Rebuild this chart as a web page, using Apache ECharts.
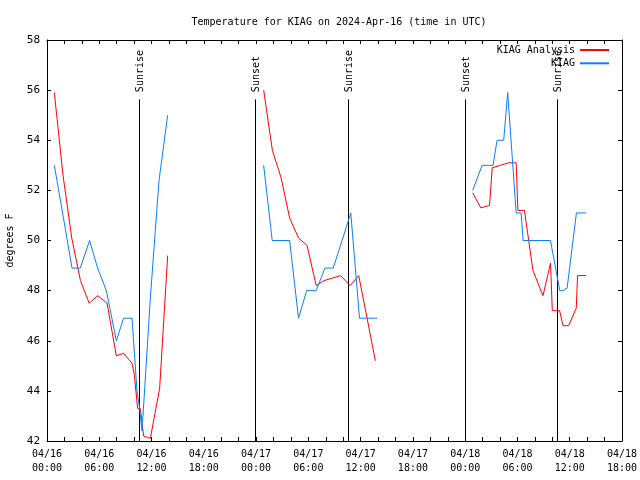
<!DOCTYPE html>
<html>
<head>
<meta charset="utf-8">
<script src="https://cdn.jsdelivr.net/npm/echarts@6/dist/echarts.min.js"></script>
<style>html,body{margin:0;padding:0;background:#fff}#c{width:640px;height:480px}</style>
</head>
<body>
<div id="c"></div>
<script>
// Hours since 04/16 00:00 UTC
var analysisT = [0.84,1.84,2.84,3.84,4.84,5.81,6.89,7.96,8.79,9.76,10.02,10.4,10.71,11.09,11.86,12.93,13.85,
  null,
  24.87,25.87,26.87,27.85,28.87,29.85,30.9,31.8,32.75,33.7,34.8,35.78,36.74,37.69,
  null,
  48.86,49.8,50.8,51.1,52.04,52.99,53.85,54.05,54.8,55.78,56.93,57.8,58.0,58.84,59.23,59.87,60.75,60.9,61.88];
var analysisV = [55.9,52.6,50.1,48.4,47.5,47.8,47.5,45.4,45.5,45.1,44.65,43.3,43.3,42.2,42.1,44.1,49.4,
  null,
  56.0,53.6,52.5,50.9,50.1,49.8,48.2,48.4,48.5,48.6,48.2,48.6,46.9,45.2,
  null,
  51.9,51.3,51.4,52.9,53.0,53.1,53.1,51.2,51.2,48.8,47.8,49.1,47.2,47.2,46.6,46.6,47.3,48.6,48.6];
var obsT = [0.84,1.84,2.87,3.82,4.89,5.81,6.81,7.96,8.79,9.76,10.33,10.63,10.91,11.86,12.86,13.85,
  null,
  24.87,25.85,27.85,28.87,29.8,30.9,31.9,32.85,33.87,34.87,35.87,37.89,
  null,
  48.86,49.94,51.2,51.66,52.42,52.88,53.85,54.42,54.65,57.79,58.86,59.24,59.7,60.77,61.88];
var obsV = [53.0,51.0,48.9,48.9,50.0,48.9,48.0,46.0,46.9,46.9,44.0,43.3,42.4,47.7,52.4,55.0,
  null,
  53.0,50.0,50.0,46.9,48.0,48.0,48.9,48.9,50.0,51.1,46.9,46.9,
  null,
  52.0,53.0,53.0,54.0,54.0,55.9,51.1,51.1,50.0,50.0,48.0,48.0,48.1,51.1,51.1];
var sunTimes = [10.52, 23.84, 34.51, 47.94, 58.5];
var sunNames = ['Sunrise', 'Sunset', 'Sunrise', 'Sunset', 'Sunrise'];
var xTickLabels = ['04/16\n00:00','04/16\n06:00','04/16\n12:00','04/16\n18:00',
  '04/17\n00:00','04/17\n06:00','04/17\n12:00','04/17\n18:00',
  '04/18\n00:00','04/18\n06:00','04/18\n12:00','04/18\n18:00'];
var seriesNames = ['KIAG Analysis', 'KIAG'];
var titleText = 'Temperature for KIAG on 2024-Apr-16 (time in UTC)';
var yName = 'degrees F';

function pairs(ts, vs) {
  var out = [];
  for (var i = 0; i < ts.length; i++) {
    out.push(ts[i] === null ? [NaN, NaN] : [ts[i], vs[i]]);
  }
  return out;
}

var FONT = 'DejaVu Sans Mono';
var chart = echarts.init(document.getElementById('c'), null, {renderer: 'canvas'});
var tickStyle = {show: true, inside: true, length: 4, lineStyle: {color: '#000', width: 1}};
var minorStyle = {show: true, splitNumber: 3, length: 4, lineStyle: {color: '#000', width: 1}};
var lineTop = 55.63, labelBottom = 55.92;

chart.setOption({
  animation: false,
  backgroundColor: '#fff',
  title: {
    text: titleText, left: 334, top: 12, textAlign: 'center',
    textStyle: {fontFamily: FONT, fontSize: 10, fontWeight: 'normal', color: '#000'}
  },
  legend: {
    orient: 'vertical', right: 30, top: 45, align: 'right', padding: 0,
    itemWidth: 29, itemHeight: 10, itemGap: 3.3,
    itemStyle: {opacity: 0},
    textStyle: {fontFamily: FONT, fontSize: 10, color: '#000'},
    data: seriesNames
  },
  grid: {left: 47, right: 18, top: 40, bottom: 39, containLabel: false, outerBoundsMode: 'none'},
  xAxis: [{
    type: 'value', min: 0, max: 66, interval: 6, position: 'bottom',
    axisLine: {show: true, onZero: false, lineStyle: {color: '#000', width: 1}},
    axisTick: tickStyle, minorTick: minorStyle, splitLine: {show: false},
    axisLabel: {
      margin: 6, lineHeight: 14.5, fontFamily: FONT, fontSize: 10, color: '#000',
      formatter: function (v) { return xTickLabels[Math.round(v / 6)]; }
    }
  }, {
    type: 'value', min: 0, max: 66, interval: 6, position: 'top',
    axisLine: {show: true, onZero: false, lineStyle: {color: '#000', width: 1}},
    axisTick: tickStyle, minorTick: minorStyle, splitLine: {show: false},
    axisLabel: {show: false}
  }],
  yAxis: [{
    type: 'value', min: 42, max: 58, interval: 2, position: 'left',
    name: yName, nameLocation: 'middle', nameGap: 30, nameRotate: 90,
    nameTextStyle: {fontFamily: FONT, fontSize: 10, color: '#000'},
    axisLine: {show: true, onZero: false, lineStyle: {color: '#000', width: 1}},
    axisTick: tickStyle, splitLine: {show: false},
    axisLabel: {margin: 7, fontFamily: FONT, fontSize: 11, color: '#000'}
  }, {
    type: 'value', min: 42, max: 58, interval: 2, position: 'right',
    axisLine: {show: true, onZero: false, lineStyle: {color: '#000', width: 1}},
    axisTick: tickStyle, splitLine: {show: false}, axisLabel: {show: false}
  }],
  series: [{
    type: 'custom', name: 'sun', silent: true,
    data: sunTimes.map(function (t) { return [t]; }),
    encode: {x: 0},
    renderItem: function (params, api) {
      var t = api.value(0);
      var p1 = api.coord([t, lineTop]);
      var p2 = api.coord([t, 42]);
      var p3 = api.coord([t, labelBottom]);
      var x = Math.round(p1[0]) + 0.5;
      return {
        type: 'group',
        children: [{
          type: 'line',
          shape: {x1: x, y1: p1[1], x2: x, y2: p2[1]},
          style: {stroke: '#000', lineWidth: 1}
        }, {
          type: 'text', x: x + 1, y: p3[1], rotation: Math.PI / 2,
          style: {text: sunNames[params.dataIndex], fill: '#000',
            font: '10px "' + FONT + '"', align: 'left', verticalAlign: 'middle'}
        }]
      };
    }
  }, {
    type: 'line', name: seriesNames[0], symbol: 'none', showSymbol: false,
    connectNulls: false,
    lineStyle: {color: '#ff0000', width: 1}, itemStyle: {color: '#ff0000'},
    data: pairs(analysisT, analysisV)
  }, {
    type: 'line', name: seriesNames[1], symbol: 'none', showSymbol: false,
    connectNulls: false,
    lineStyle: {color: '#0a80f0', width: 1}, itemStyle: {color: '#0a80f0'},
    data: pairs(obsT, obsV)
  }]
});
</script>
</body>
</html>
